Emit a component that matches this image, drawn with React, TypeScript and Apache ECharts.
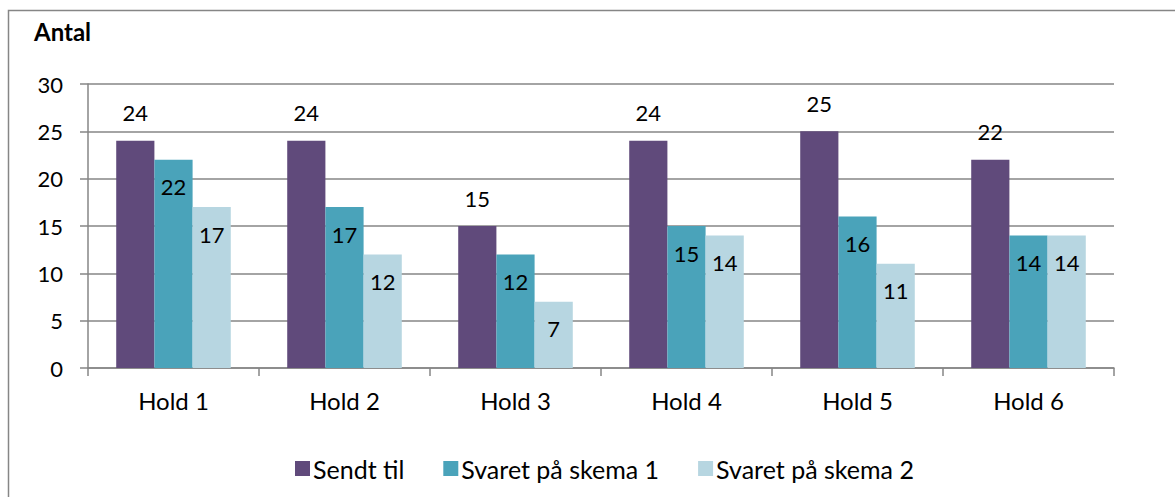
import React, { useEffect, useRef } from "react";
import * as echarts from "echarts";

const categories = ["Hold 1", "Hold 2", "Hold 3", "Hold 4", "Hold 5", "Hold 6"];
const sendtTil = [24, 24, 15, 24, 25, 22];
const skema1 = [22, 17, 12, 15, 16, 14];
const skema2 = [17, 12, 7, 14, 11, 14];
const seriesNames = ["Sendt til", "Svaret på skema 1", "Svaret på skema 2"];
const yTicks = { min: 0, max: 30, interval: 5 };

const FONT = "Lato, 'Noto Sans', sans-serif";
const GRID = "#868686";

export default function App() {
  const ref = useRef<HTMLDivElement>(null);
  useEffect(() => {
    const chart = echarts.init(ref.current!, null, { renderer: "svg" });
    const numStyle = { color: "#000", fontSize: 22, fontFamily: FONT };
    chart.setOption({
      animation: false,
      textStyle: { fontFamily: FONT },
      graphic: [
        {
          type: "rect",
          shape: { x: 8.5, y: 10.5, width: 1200, height: 520 },
          style: { fill: "none", stroke: GRID, lineWidth: 1.5 },
        },
        {
          type: "text",
          left: 34,
          top: 19,
          style: { text: "Antal", font: `bold 24px ${FONT}`, fill: "#000" },
        },
      ],
      grid: { left: 88, right: 61, top: 84, bottom: 129, containLabel: false },
      legend: {
        data: seriesNames,
        left: 290,
        top: 451,
        itemWidth: 15,
        itemHeight: 15,
        itemGap: 39,
        icon: "rect",
        textStyle: { fontSize: 25, color: "#000", fontFamily: FONT, padding: [0, 0, 0, -2] },
      },
      xAxis: {
        type: "category",
        data: categories,
        boundaryGap: true,
        axisLine: { lineStyle: { color: GRID, width: 1.5 } },
        axisTick: { show: true, length: 8, lineStyle: { color: GRID, width: 1.5 } },
        axisLabel: { fontSize: 24, color: "#000", fontFamily: FONT, margin: 20 },
      },
      yAxis: {
        type: "value",
        min: yTicks.min,
        max: yTicks.max,
        interval: yTicks.interval,
        axisLine: { show: true, lineStyle: { color: GRID, width: 1.5 } },
        axisTick: { show: true, length: 8, lineStyle: { color: GRID, width: 1.5 } },
        axisLabel: { fontSize: 22, color: "#000", fontFamily: FONT, margin: 25 },
        splitLine: { lineStyle: { color: GRID, width: 1.5 } },
      },
      series: [
        {
          name: seriesNames[0],
          type: "bar",
          data: sendtTil,
          barGap: "0%",
          barCategoryGap: "33%",
          itemStyle: { color: "#604A7B" },
          label: { show: true, position: "top", distance: 17, ...numStyle },
        },
        {
          name: seriesNames[1],
          type: "bar",
          data: skema1,
          itemStyle: { color: "#4AA3BA" },
          label: { show: true, position: "insideTop", distance: 16, ...numStyle },
        },
        {
          name: seriesNames[2],
          type: "bar",
          data: skema2,
          itemStyle: { color: "#B7D6E1" },
          label: { show: true, position: "insideTop", distance: 16, ...numStyle },
        },
      ],
    });
    return () => chart.dispose();
  }, []);
  return (
    <div
      ref={ref}
      style={{ position: "absolute", left: 0, top: 0, width: 1175, height: 497 }}
    />
  );
}
